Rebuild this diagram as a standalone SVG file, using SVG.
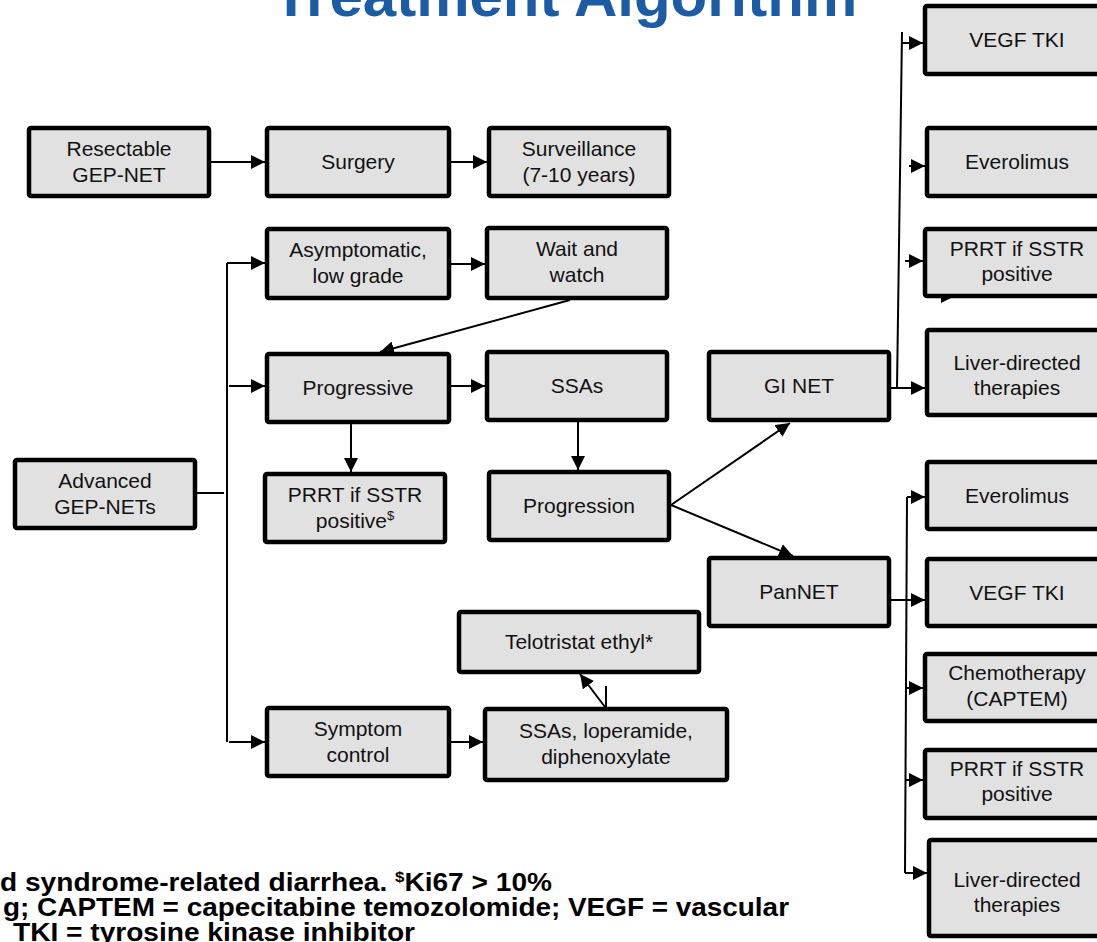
<svg xmlns="http://www.w3.org/2000/svg" width="1097" height="942" viewBox="0 0 1097 942">
<style>
.box{fill:#e1e1e1;stroke:#000;stroke-width:4.5;}
.t{font-family:"Liberation Sans",Arial,sans-serif;font-size:21px;text-anchor:middle;fill:#111;}
.c{fill:none;stroke:#000;stroke-width:2;}
.title{font-family:"Liberation Sans",Arial,sans-serif;font-size:60px;font-weight:bold;fill:#1c5ca5;text-anchor:middle;}
.fn{font-family:"Liberation Sans",Arial,sans-serif;font-size:25px;font-weight:bold;fill:#000;text-anchor:end;}
</style>
<defs>
<marker id="ah" markerUnits="userSpaceOnUse" markerWidth="14" markerHeight="14" refX="14" refY="7" orient="auto">
<path d="M0,0 L14,7 L0,14 Z" fill="#000"/>
</marker>
</defs>
<rect width="1097" height="942" fill="#fff"/>
<text class="title" x="565" y="16">Treatment Algorithm</text>

<g id="connectors">
<path class="c" d="M211,162 H265" marker-end="url(#ah)"/>
<path class="c" d="M451,162 H487" marker-end="url(#ah)"/>
<path class="c" d="M197,493 H224"/>
<path class="c" d="M227,263 V742"/>
<path class="c" d="M227,263 H265" marker-end="url(#ah)"/>
<path class="c" d="M229,386 H265" marker-end="url(#ah)"/>
<path class="c" d="M229,742 H265" marker-end="url(#ah)"/>
<path class="c" d="M451,264 H485" marker-end="url(#ah)"/>
<path class="c" d="M570,300 L380,352" marker-end="url(#ah)"/>
<path class="c" d="M451,386 H485" marker-end="url(#ah)"/>
<path class="c" d="M351,424 V472" marker-end="url(#ah)"/>
<path class="c" d="M578,422 V470" marker-end="url(#ah)"/>
<path class="c" d="M671,505 L790,423" marker-end="url(#ah)"/>
<path class="c" d="M671,505 L793,556" marker-end="url(#ah)"/>
<path class="c" d="M451,742 H483" marker-end="url(#ah)"/>
<path class="c" d="M605,707 L580,674" marker-end="url(#ah)"/>
<path class="c" d="M606,707 V686"/>
<path class="c" d="M902,32 L897,388"/>
<path class="c" d="M891,388 H925" marker-end="url(#ah)"/>
<path class="c" d="M902,43 H923" marker-end="url(#ah)"/>
<path class="c" d="M909,166 H925" marker-end="url(#ah)"/>
<path class="c" d="M905,261 H923" marker-end="url(#ah)"/>
<path class="c" d="M925,296 H955" marker-end="url(#ah)"/>
<path class="c" d="M907,497 L905,873"/>
<path class="c" d="M907,497 H925" marker-end="url(#ah)"/>
<path class="c" d="M891,600 H925" marker-end="url(#ah)"/>
<path class="c" d="M906,688 H923" marker-end="url(#ah)"/>
<path class="c" d="M906,780 H923" marker-end="url(#ah)"/>
<path class="c" d="M905,873 H927" marker-end="url(#ah)"/>
</g>

<g id="resectable"><rect class="box" x="29" y="128" width="180" height="68" rx="2"/><text class="t" x="119" y="156">Resectable</text><text class="t" x="119" y="182">GEP-NET</text></g>
<g id="surgery"><rect class="box" x="267" y="128" width="182" height="68" rx="2"/><text class="t" x="358" y="169">Surgery</text></g>
<g id="surveillance"><rect class="box" x="489" y="128" width="180" height="68" rx="2"/><text class="t" x="579" y="156">Surveillance</text><text class="t" x="579" y="182">(7-10 years)</text></g>
<g id="asymptomatic"><rect class="box" x="267" y="229" width="182" height="69" rx="2"/><text class="t" x="358" y="257">Asymptomatic,</text><text class="t" x="358" y="283">low grade</text></g>
<g id="wait"><rect class="box" x="487" y="228" width="180" height="70" rx="2"/><text class="t" x="577" y="256">Wait and</text><text class="t" x="577" y="282">watch</text></g>
<g id="progressive"><rect class="box" x="267" y="354" width="182" height="68" rx="2"/><text class="t" x="358" y="395">Progressive</text></g>
<g id="ssas"><rect class="box" x="487" y="352" width="180" height="68" rx="2"/><text class="t" x="577" y="393">SSAs</text></g>
<g id="ginet"><rect class="box" x="709" y="352" width="180" height="68" rx="2"/><text class="t" x="799" y="393">GI NET</text></g>
<g id="progression"><rect class="box" x="489" y="472" width="180" height="68" rx="2"/><text class="t" x="579" y="513">Progression</text></g>
<g id="advanced"><rect class="box" x="15" y="460" width="180" height="68" rx="2"/><text class="t" x="105" y="488">Advanced</text><text class="t" x="105" y="514">GEP-NETs</text></g>
<g id="prrt1"><rect class="box" x="265" y="474" width="180" height="68" rx="2"/><text class="t" x="355" y="502">PRRT if SSTR</text><text class="t" x="355" y="528">positive<tspan font-size="13" dy="-8">$</tspan></text></g>
<g id="pannet"><rect class="box" x="709" y="558" width="180" height="68" rx="2"/><text class="t" x="799" y="599">PanNET</text></g>
<g id="telotristat"><rect class="box" x="459" y="612" width="240" height="60" rx="2"/><text class="t" x="579" y="649">Telotristat ethyl*</text></g>
<g id="symptom"><rect class="box" x="267" y="708" width="182" height="68" rx="2"/><text class="t" x="358" y="736">Symptom</text><text class="t" x="358" y="762">control</text></g>
<g id="ssaslop"><rect class="box" x="485" y="709" width="242" height="71" rx="2"/><text class="t" x="606" y="738">SSAs, loperamide,</text><text class="t" x="606" y="764">diphenoxylate</text></g>

<g id="gi-vegf"><rect class="box" x="925" y="6" width="184" height="68" rx="2"/><text class="t" x="1017" y="47">VEGF TKI</text></g>
<g id="gi-everolimus"><rect class="box" x="927" y="128" width="184" height="68" rx="2"/><text class="t" x="1017" y="169">Everolimus</text></g>
<g id="gi-prrt"><rect class="box" x="925" y="229" width="184" height="67" rx="2"/><text class="t" x="1017" y="256">PRRT if SSTR</text><text class="t" x="1017" y="281">positive</text></g>
<g id="gi-liver"><rect class="box" x="927" y="330" width="184" height="85" rx="2"/><text class="t" x="1017" y="370">Liver-directed</text><text class="t" x="1017" y="395">therapies</text></g>
<g id="pan-everolimus"><rect class="box" x="927" y="462" width="184" height="67" rx="2"/><text class="t" x="1017" y="503">Everolimus</text></g>
<g id="pan-vegf"><rect class="box" x="927" y="559" width="184" height="67" rx="2"/><text class="t" x="1017" y="600">VEGF TKI</text></g>
<g id="pan-chemo"><rect class="box" x="925" y="654" width="184" height="67" rx="2"/><text class="t" x="1017" y="680">Chemotherapy</text><text class="t" x="1017" y="706">(CAPTEM)</text></g>
<g id="pan-prrt"><rect class="box" x="925" y="750" width="184" height="68" rx="2"/><text class="t" x="1017" y="776">PRRT if SSTR</text><text class="t" x="1017" y="801">positive</text></g>
<g id="pan-liver"><rect class="box" x="929" y="840" width="184" height="96" rx="2"/><text class="t" x="1017" y="887">Liver-directed</text><text class="t" x="1017" y="912">therapies</text></g>

<g id="footnote">
<text class="fn" x="552" y="891" textLength="552" lengthAdjust="spacingAndGlyphs">d syndrome-related diarrhea. <tspan font-size="15" dy="-9">$</tspan><tspan dy="9">Ki67 &gt; 10%</tspan></text>
<text class="fn" x="789" y="916" textLength="786" lengthAdjust="spacingAndGlyphs">g; CAPTEM = capecitabine temozolomide; VEGF = vascular</text>
<text class="fn" x="415" y="941" textLength="402" lengthAdjust="spacingAndGlyphs">TKI = tyrosine kinase inhibitor</text>
</g>
</svg>
